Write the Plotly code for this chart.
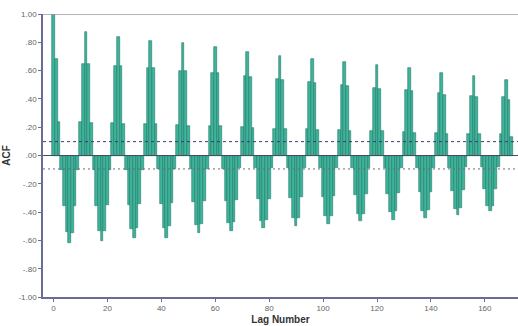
import plotly.graph_objects as go

lags = list(range(0, 171))
acf = [
    # 0-11
    1.00, 0.68, 0.24, -0.10, -0.36, -0.54, -0.615, -0.545, -0.36, -0.10, 0.24, 0.65,
    # 12-23
    0.87, 0.65, 0.23, -0.10, -0.355, -0.535, -0.605, -0.53, -0.35, -0.10, 0.23, 0.63,
    # 24-35
    0.84, 0.635, 0.225, -0.10, -0.35, -0.52, -0.585, -0.515, -0.34, -0.10, 0.22, 0.615,
    # 36-47
    0.81, 0.62, 0.22, -0.095, -0.34, -0.51, -0.58, -0.50, -0.335, -0.095, 0.215, 0.60,
    # 48-59
    0.795, 0.595, 0.21, -0.095, -0.33, -0.49, -0.55, -0.485, -0.325, -0.095, 0.21, 0.585,
    # 60-71
    0.77, 0.58, 0.205, -0.095, -0.32, -0.475, -0.535, -0.47, -0.315, -0.09, 0.20, 0.56,
    # 72-83
    0.735, 0.555, 0.195, -0.09, -0.31, -0.46, -0.515, -0.455, -0.305, -0.09, 0.19, 0.54,
    # 84-95
    0.70, 0.535, 0.19, -0.09, -0.30, -0.445, -0.495, -0.44, -0.295, -0.09, 0.185, 0.52,
    # 96-107
    0.685, 0.515, 0.18, -0.09, -0.29, -0.43, -0.485, -0.425, -0.285, -0.09, 0.18, 0.50,
    # 108-119
    0.66, 0.49, 0.175, -0.09, -0.28, -0.415, -0.465, -0.41, -0.275, -0.085, 0.17, 0.48,
    # 120-131
    0.64, 0.47, 0.17, -0.085, -0.27, -0.40, -0.455, -0.395, -0.265, -0.085, 0.165, 0.46,
    # 132-143
    0.615, 0.455, 0.16, -0.085, -0.26, -0.39, -0.44, -0.385, -0.255, -0.085, 0.16, 0.44,
    # 144-155
    0.585, 0.43, 0.155, -0.085, -0.25, -0.375, -0.42, -0.37, -0.245, -0.08, 0.155, 0.42,
    # 156-167
    0.56, 0.41, 0.15, -0.08, -0.24, -0.36, -0.395, -0.355, -0.235, -0.08, 0.15, 0.41,
    # 168-170
    0.535, 0.39, 0.13,
]
conf_upper = 0.098
conf_lower = -0.095

y_tickvals = [1.0, 0.8, 0.6, 0.4, 0.2, 0.0, -0.2, -0.4, -0.6, -0.8, -1.0]
y_ticktext = ["1.00", ".80", ".60", ".40", ".20", ".00", "-.20", "-.40", "-.60", "-.80", "-1.00"]
x_tickvals = [0, 20, 40, 60, 80, 100, 120, 140, 160]

fig = go.Figure()
fig.add_trace(go.Bar(
    x=lags, y=acf,
    marker=dict(color="#40b49b", line=dict(color="#227a68", width=0.6)),
    width=1.0,
    hoverinfo="x+y",
))

axis_col = "#6b6b98"
fig.update_layout(
    width=518, height=326,
    margin=dict(l=43, r=0, t=14, b=29),
    paper_bgcolor="white", plot_bgcolor="white",
    showlegend=False,
    bargap=0,
    font=dict(family="Liberation Sans, Arial, sans-serif", size=8, color="#555555"),
    xaxis=dict(
        range=[-3.9, 172.3],
        tickvals=x_tickvals,
        ticks="outside", ticklen=3, tickcolor=axis_col,
        showline=True, linecolor=axis_col, linewidth=1.5,
        showgrid=False, zeroline=False,
        tickfont=dict(size=8, color="#666666"),
        title=dict(text="<b>Lag Number</b>", font=dict(size=10, color="#333333"), standoff=4),
    ),
    yaxis=dict(
        range=[-1.0, 1.0],
        tickvals=y_tickvals, ticktext=y_ticktext,
        ticks="outside", ticklen=3, tickcolor=axis_col,
        showline=True, linecolor=axis_col, linewidth=1.5,
        showgrid=False, zeroline=False,
        tickfont=dict(size=8, color="#666666"),
        title=dict(text="<b>ACF</b>", font=dict(size=10, color="#333333"), standoff=6),
    ),
    shapes=[
        dict(type="line", xref="paper", yref="y", x0=0, x1=1, y0=1.0, y1=1.0,
             line=dict(color="#9a9aa8", width=1.5), layer="above"),
        dict(type="line", xref="paper", yref="y", x0=0, x1=1, y0=0, y1=0,
             line=dict(color="#4a4a66", width=1), layer="above"),
        dict(type="line", xref="paper", yref="y", x0=0, x1=1, y0=conf_upper, y1=conf_upper,
             line=dict(color="#3a3a78", width=1, dash="3px,3px"), layer="above"),
        dict(type="line", xref="paper", yref="y", x0=0, x1=1, y0=conf_lower, y1=conf_lower,
             line=dict(color="#6a6a88", width=1, dash="2px,3px"), layer="above"),
    ],
)

fig.write_html("out.html")
